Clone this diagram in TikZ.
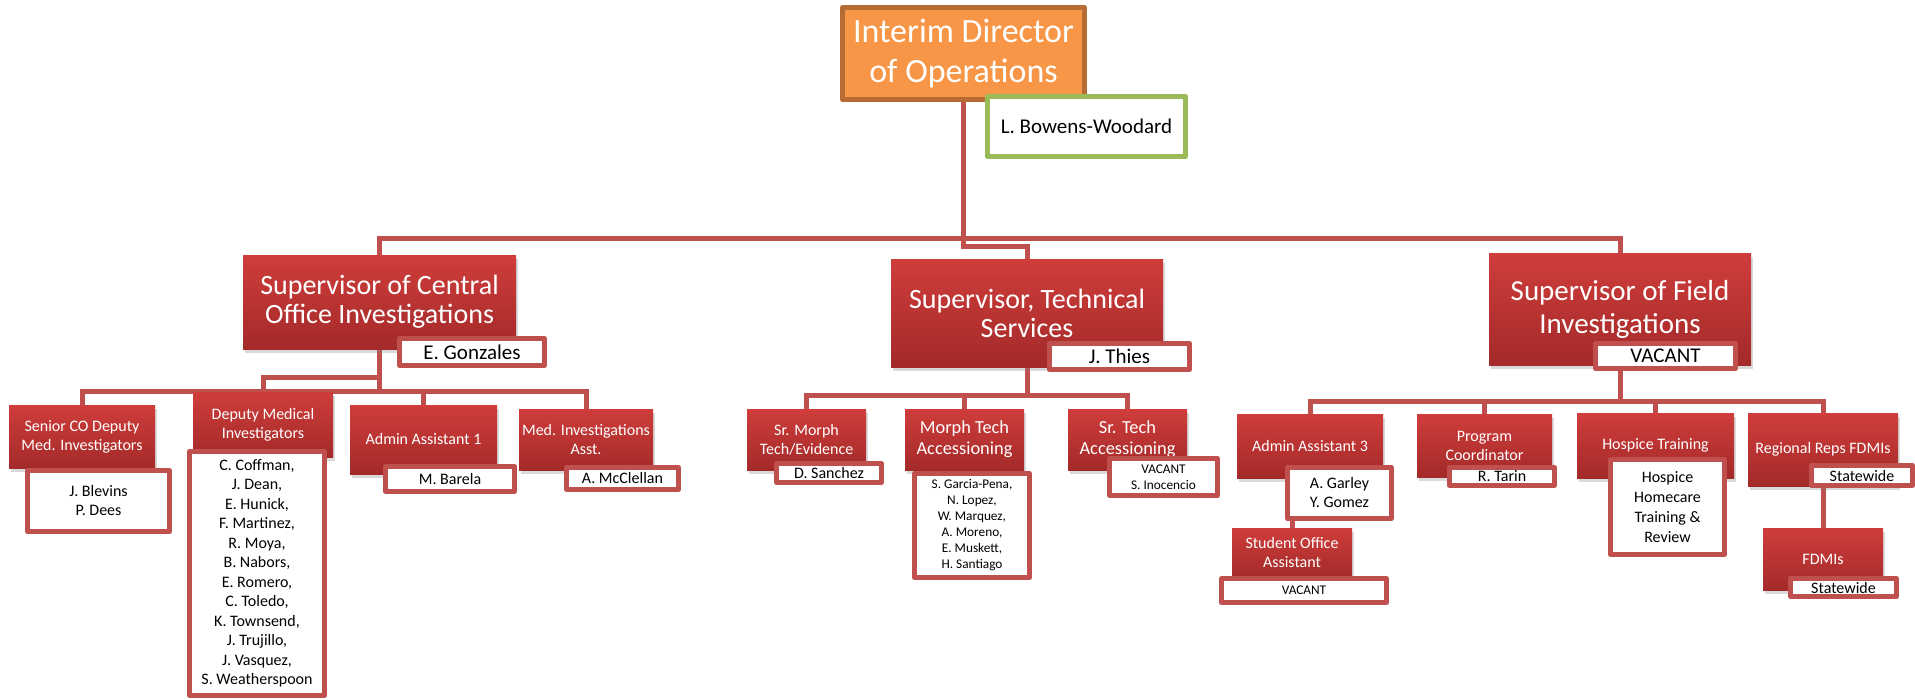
\documentclass[tikz,border=0pt]{standalone}
\usepackage{fontspec}
\setmainfont{Carlito}
\usetikzlibrary{positioning,shadows,backgrounds}
\definecolor{redtop}{RGB}{207,61,59}
\definecolor{redbot}{RGB}{163,42,41}
\definecolor{myred}{RGB}{192,80,77}
\definecolor{myorange}{RGB}{247,150,70}
\definecolor{myorangedk}{RGB}{182,108,50}
\definecolor{mygreen}{RGB}{155,187,89}

\begin{document}
\begin{tikzpicture}[x=0.5pt,y=-0.5pt,line join=round,
  font=\fontsize{8pt}{9.5pt}\selectfont,
  link/.style={draw=myred,line width=2.5pt},
  role/.style 2 args={rectangle,top color=redtop,bottom color=redbot,text=white,align=center,inner sep=1pt,
    minimum width=#1*0.5pt,minimum height=#2*0.5pt,
    drop shadow={shadow xshift=1pt,shadow yshift=-2pt,opacity=.3}},
  who/.style 2 args={rectangle,fill=white,draw=myred,line width=2.5pt,text=black,align=center,inner sep=1pt,
    minimum width=#1*0.5pt-2.5pt,minimum height=#2*0.5pt-2.5pt},
  fchief/.style={font=\fontsize{17pt}{20pt}\selectfont},
  ftitle/.style={font=\fontsize{14pt}{14.5pt}\selectfont},
  fname/.style={font=\fontsize{10.5pt}{12pt}\selectfont},
  fmid/.style={font=\fontsize{9.2pt}{10.5pt}\selectfont},
  flist/.style={font=\fontsize{8pt}{9.75pt}\selectfont},
  fsmall/.style={font=\fontsize{6.65pt}{8pt}\selectfont}]

  \useasboundingbox (0,0) rectangle (1915,700);

  \node[rectangle,fill=myorange,draw=myorangedk,line width=2.5pt,text=white,align=center,fchief,
    minimum width=247*0.5pt-2.5pt,minimum height=97*0.5pt-2.5pt] (dir) at (963.5,53.5) {Interim Director\\of Operations};
  \node[who={203}{65},draw=mygreen,fname] (bw) at (1086.5,126.5) {L. Bowens-Woodard};

  \node[role={273}{94},ftitle] (cen) at (379.5,302) {Supervisor of Central\\Office Investigations};
  \node[role={272}{108},ftitle] (tech) at (1027,313) {Supervisor, Technical\\Services};
  \node[role={262}{112},font=\fontsize{14.5pt}{16.5pt}\selectfont] (fld) at (1620,309) {Supervisor of Field\\Investigations};
  \node[who={150}{32},fname] (gon) at (472,352) {E. Gonzales};
  \node[who={145}{31},fname] (thi) at (1119.5,356.5) {J. Thies};
  \node[who={145}{30},fname] (fva) at (1665.5,356) {VACANT};

  \node[role={146}{63}] (sen) at (82,436.5) {Senior CO Deputy\\Med. Investigators};
  \node[role={140}{65}] (dep) at (263,424.5) {Deputy Medical\\Investigators};
  \node[role={147}{69}] (adm1) at (423.5,439.5) {Admin Assistant 1};
  \node[role={134}{61}] (mia) at (586,439.5) {Med. Investigations\\Asst.};
  \node[who={147}{66}] (blv) at (98.5,501) {J. Blevins\\P. Dees};
  \node[who={140}{249},flist] (dnm) at (257,573.5) {C. Coffman,\\J. Dean,\\E. Hunick,\\F. Martinez,\\R. Moya,\\B. Nabors,\\E. Romero,\\C. Toledo,\\K. Townsend,\\J. Trujillo,\\J. Vasquez,\\S. Weatherspoon};
  \node[who={134}{30}] (bar) at (450,479) {M. Barela};
  \node[who={117}{27}] (mcc) at (622.5,478.5) {A. McClellan};

  \node[role={119}{61}] (smorph) at (806.5,439.5) {Sr. Morph\\Tech/Evidence};
  \node[role={119}{61},fmid] (morph) at (964.5,439.5) {Morph Tech\\Accessioning};
  \node[role={119}{61},fmid] (stech) at (1127.5,439.5) {Sr. Tech\\Accessioning};
  \node[who={110}{24}] (san) at (829,473) {D. Sanchez};
  \node[who={120}{109},fsmall] (mnm) at (972,525.5) {S. Garcia-Pena,\\N. Lopez,\\W. Marquez,\\A. Moreno,\\E. Muskett,\\H. Santiago};
  \node[who={113}{42},fsmall] (ino) at (1163.5,477) {VACANT\\S. Inocencio};

  \node[role={146}{64}] (adm3) at (1310,446) {Admin Assistant 3};
  \node[role={135}{63}] (prog) at (1484.5,445.5) {Program\\Coordinator};
  \node[role={157}{65}] (hosp) at (1655.5,445.5) {Hospice Training};
  \node[role={150}{73}] (reg) at (1823,449.5) {Regional Reps FDMIs};
  \node[role={120}{49}] (stu) at (1292,552.5) {Student Office\\Assistant};
  \node[role={120}{62}] (fdm) at (1823,559) {FDMIs};
  \node[who={109}{56}] (gar) at (1339.5,493) {A. Garley\\Y. Gomez};
  \node[who={110}{23}] (tar) at (1502,476.5) {R. Tarin};
  \node[who={119}{100},font=\fontsize{8pt}{10pt}\selectfont] (hbx) at (1667.5,507) {Hospice\\Homecare\\Training \&\\Review};
  \node[who={106}{25}] (sw1) at (1862,475.5) {Statewide};
  \node[who={170}{29},fsmall] (sva) at (1304,590.5) {VACANT};
  \node[who={111}{23}] (sw2) at (1843.5,587.5) {Statewide};

  \begin{pgfonlayer}{background}
    \coordinate (topbar) at (0,239);
    \coordinate (techbar) at (0,247);
    \coordinate (cenbar1) at (0,377);
    \coordinate (cenbar2) at (0,391);
    \coordinate (techbar2) at (0,395);
    \coordinate (fldbar) at (0,401);
    \draw[link] (dir.south) -- (dir.south |- topbar);
    \draw[link] (cen.north) |- (fld.north |- topbar) -- (fld.north);
    \draw[link] (dir.south) |- (tech.north |- techbar) -- (tech.north);
    \draw[link] (cen.south) |- (dep.north |- cenbar1) -- (dep.north);
    \draw[link] (cen.south) |- (sen.north |- cenbar2) -- (sen.north);
    \draw[link] (cen.south) |- (mia.north |- cenbar2) -- (mia.north);
    \draw[link] (adm1.north) -- (adm1.north |- cenbar2);
    \draw[link] (tech.south) |- (smorph.north |- techbar2) -- (smorph.north);
    \draw[link] (tech.south) |- (stech.north |- techbar2) -- (stech.north);
    \draw[link] (morph.north) -- (morph.north |- techbar2);
    \draw[link] (fld.south) |- (adm3.north |- fldbar) -- (adm3.north);
    \draw[link] (fld.south) |- (reg.north |- fldbar) -- (reg.north);
    \foreach \n in {prog,hosp}
      \draw[link] (\n.north) -- (\n.north |- fldbar);
    \draw[link] (stu.north) -- (stu.north |- gar.south);
    \draw[link] (reg.south) -- (fdm.north);
  \end{pgfonlayer}
\end{tikzpicture}
\end{document}
